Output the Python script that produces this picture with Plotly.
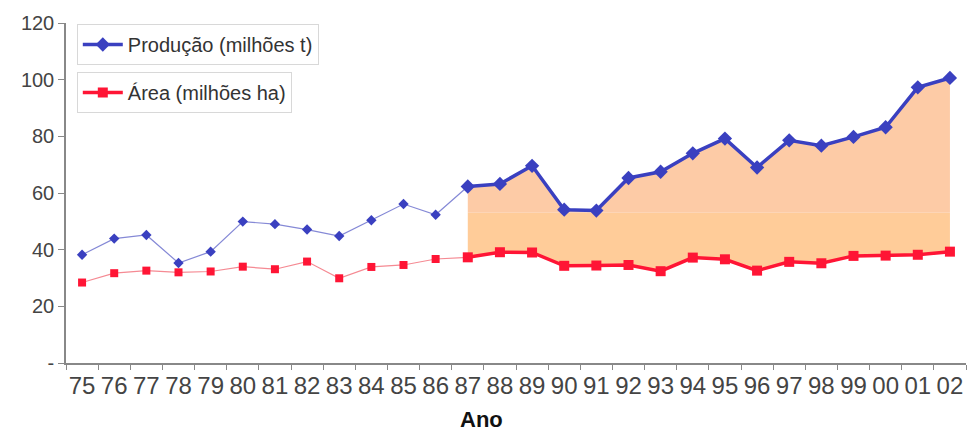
import plotly.graph_objects as go

# Years (two-digit labels)
anos = ["75", "76", "77", "78", "79", "80", "81", "82", "83", "84", "85", "86", "87",
        "88", "89", "90", "91", "92", "93", "94", "95", "96", "97", "98", "99", "00", "01", "02"]

# Production, millions of tonnes
producao = [38.2, 43.9, 45.2, 35.3, 39.3, 49.9, 49.0, 47.1, 44.8, 50.4, 56.1, 52.3, 62.3,
            63.2, 69.6, 54.1, 53.8, 65.3, 67.5, 74.0, 79.2, 69.0, 78.6, 76.7, 79.8, 83.2, 97.3, 100.6]

# Planted area, millions of hectares
area = [28.4, 31.7, 32.6, 32.0, 32.3, 34.0, 33.1, 35.8, 29.9, 33.9, 34.6, 36.7, 37.3,
        39.1, 39.0, 34.3, 34.4, 34.6, 32.4, 37.2, 36.6, 32.6, 35.7, 35.2, 37.8, 37.9, 38.2, 39.3]

y_ticks = [0, 20, 40, 60, 80, 100, 120]
y_labels = ["-", "20", "40", "60", "80", "100", "120"]

inicio = anos.index("87")   # highlighted period starts here
faixa = 53                  # boundary between the two shading tones

blue = "#3A40C0"
red = "#FF1535"

x_old, x_new = anos[:inicio + 1], anos[inicio:]
p_old, p_new = producao[:inicio + 1], producao[inicio:]
a_old, a_new = area[:inicio + 1], area[inicio:]

fig = go.Figure()

# Shaded band between area and production for the later period
fig.add_trace(go.Scatter(x=x_new, y=a_new, mode="lines", line=dict(width=0),
                         showlegend=False, hoverinfo="skip"))
fig.add_trace(go.Scatter(x=x_new, y=[faixa] * len(x_new), mode="lines", line=dict(width=0),
                         fill="tonexty", fillcolor="#FFCC99", showlegend=False, hoverinfo="skip"))
fig.add_trace(go.Scatter(x=x_new, y=p_new, mode="lines", line=dict(width=0),
                         fill="tonexty", fillcolor="#FDCBA6", showlegend=False, hoverinfo="skip"))

# Earlier period: thin lines
fig.add_trace(go.Scatter(x=x_old, y=p_old, mode="lines+markers",
                         line=dict(color="#8589D6", width=1.2),
                         marker=dict(symbol="diamond", size=8, color=blue),
                         showlegend=False))
fig.add_trace(go.Scatter(x=x_old, y=a_old, mode="lines+markers",
                         line=dict(color="#F58A93", width=1.2),
                         marker=dict(symbol="square", size=8, color=red),
                         showlegend=False))

# Later period: thick lines
fig.add_trace(go.Scatter(x=x_new, y=a_new, mode="lines+markers", name="Área (milhões ha)",
                         line=dict(color=red, width=3.5),
                         marker=dict(symbol="square", size=10, color=red),
                         legend="legend2"))
fig.add_trace(go.Scatter(x=x_new, y=p_new, mode="lines+markers", name="Produção (milhões t)",
                         line=dict(color=blue, width=3.5),
                         marker=dict(symbol="diamond", size=11, color=blue),
                         legend="legend"))

legend_style = dict(bgcolor="white", bordercolor="#D8D8D8", borderwidth=1,
                    font=dict(family="Liberation Sans, Arial, sans-serif", size=20, color="#333333"),
                    xanchor="left", yanchor="top", itemwidth=40)

fig.update_layout(
    width=974, height=433,
    margin=dict(l=66, r=8, t=23, b=70),
    paper_bgcolor="white", plot_bgcolor="white",
    legend=dict(x=0.012, y=0.997, **legend_style),
    legend2=dict(x=0.012, y=0.856, **legend_style),
    xaxis=dict(
        type="category", categoryorder="array", categoryarray=anos,
        range=[-0.5, len(anos) - 0.5], automargin=False,
        showline=True, linecolor="#888888", linewidth=1.5,
        ticks="outside", tickson="boundaries", ticklen=5, tickcolor="#888888",
        tickangle=0,
        tickfont=dict(family="Liberation Sans Narrow, Liberation Sans, Arial", size=24, color="#444444"),
        showgrid=False, zeroline=False,
    ),
    yaxis=dict(
        range=[0, 120], tickvals=y_ticks, ticktext=y_labels, automargin=False,
        showline=True, linecolor="#888888", linewidth=1.5,
        ticks="outside", ticklen=6, tickcolor="#888888",
        tickfont=dict(family="Liberation Sans, Arial", size=20, color="#444444"),
        showgrid=False, zeroline=False,
    ),
    annotations=[dict(
        text="<b>Ano</b>", xref="paper", yref="paper", x=0.462, y=-0.165,
        xanchor="center", yanchor="middle", showarrow=False, borderpad=0,
        font=dict(family="Liberation Sans, Arial", size=22, color="#111111"),
    )],
)

fig.write_html("out.html")
